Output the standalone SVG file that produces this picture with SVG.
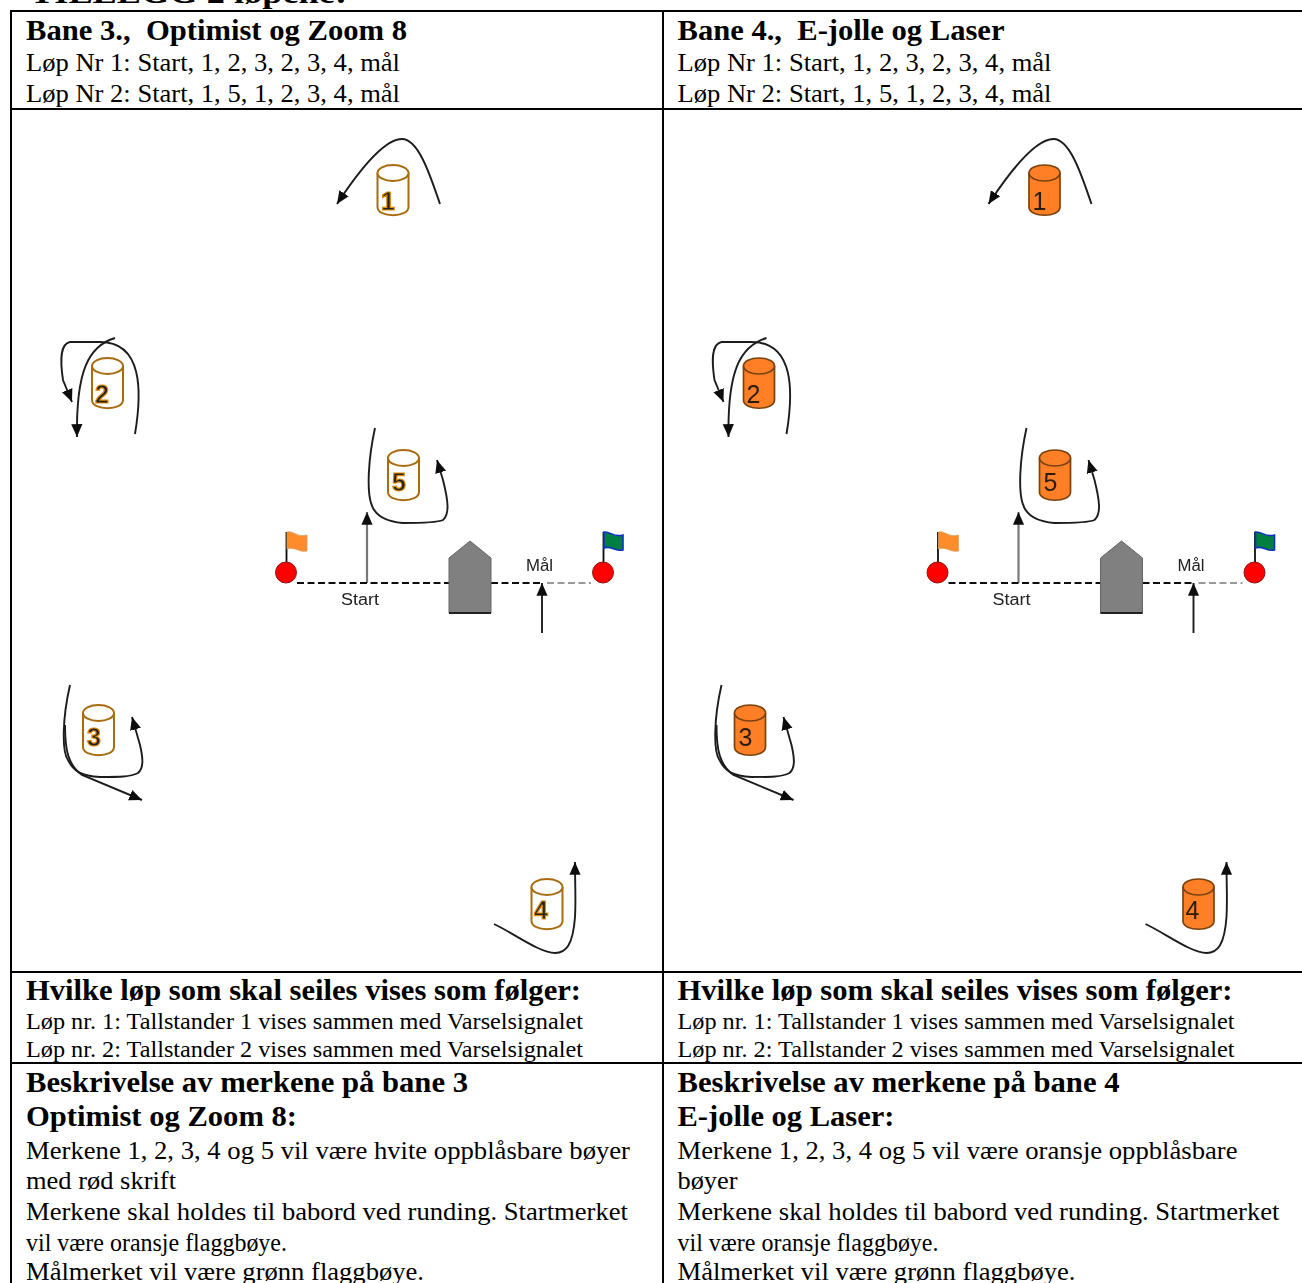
<svg xmlns="http://www.w3.org/2000/svg" width="1302" height="1283" viewBox="0 0 1302 1283">
<style>
text{font-family:"Liberation Serif","Times New Roman",serif;fill:#000;white-space:pre}
.h{font-size:30px;font-weight:700}
.b{font-size:26px}
.s{font-size:23.5px}
.n{font-family:"Liberation Sans",Arial,sans-serif;font-size:25px}
.nw{fill:#222;stroke:#e08a00;stroke-width:1.2;font-weight:700}
.no{fill:#2a1a08}
.lab{font-family:"Liberation Sans",Arial,sans-serif;font-size:16px;fill:#222}
.grid{stroke:#000;stroke-width:2;fill:none}
.buoyW{fill:#fff;stroke:#a86c10;stroke-width:2}
.buoyO{fill:#ff7f27;stroke:#7a4210;stroke-width:1.7}
.track{fill:none;stroke:#1c1c1c;stroke-width:1.9;marker-end:url(#ah)}
.grey{stroke:#777;stroke-width:2.2;fill:none;marker-end:url(#ah)}
.dash{stroke:#111;stroke-width:2;stroke-dasharray:7 3.5;fill:none}
.dashg{stroke:#999;stroke-width:2;stroke-dasharray:7 3.5;fill:none}
.boat{fill:#808080;stroke:#666;stroke-width:1}
.keel{stroke:#222;stroke-width:2}
.ball{fill:#f00;stroke:#8a1010;stroke-width:1}
.pole{stroke:#111;stroke-width:1.8}
.fo{fill:#ff8c2a;stroke:#d8a060;stroke-width:.8}
.fg{fill:#007f3f;stroke:#1030c0;stroke-width:1.6}
.soft{filter:url(#sf)}
</style>
<defs>
<filter id="sf" x="-5%" y="-5%" width="110%" height="110%"><feGaussianBlur stdDeviation="0.55"/></filter>
<marker id="ah" markerUnits="userSpaceOnUse" markerWidth="14" markerHeight="14" viewBox="0 0 12 12" refX="11" refY="6" orient="auto"><path d="M0 1.2L11 6L0 10.8Z" fill="#111"/></marker>
<g id="can"><path d="M-15.500 -17V17C-15.500 28 15.500 28 15.500 17V-17"/><ellipse cx="0" cy="-17" rx="15.500" ry="8"/></g>
</defs>

<text x="30" y="3" class="h" textLength="317" lengthAdjust="spacingAndGlyphs">TILLEGG 2 løpene:</text>

<g id="table" class="grid">
<path d="M10 11H1302M10 109H1302M10 972H1302M10 1063H1302M11 10V1283M663 10V1283"/>
</g>

<g id="header-left">
<text x="26" y="40" class="h" textLength="381" lengthAdjust="spacingAndGlyphs">Bane 3.,  Optimist og Zoom 8</text>
<text x="26" y="71" class="b" textLength="374" lengthAdjust="spacingAndGlyphs">Løp Nr 1: Start, 1, 2, 3, 2, 3, 4, mål</text>
<text x="26" y="102" class="b" textLength="374" lengthAdjust="spacingAndGlyphs">Løp Nr 2: Start, 1, 5, 1, 2, 3, 4, mål</text>
</g>
<g id="header-right">
<text x="677.500" y="40" class="h" textLength="327" lengthAdjust="spacingAndGlyphs">Bane 4.,  E-jolle og Laser</text>
<text x="677.500" y="71" class="b" textLength="374" lengthAdjust="spacingAndGlyphs">Løp Nr 1: Start, 1, 2, 3, 2, 3, 4, mål</text>
<text x="677.500" y="102" class="b" textLength="374" lengthAdjust="spacingAndGlyphs">Løp Nr 2: Start, 1, 5, 1, 2, 3, 4, mål</text>
</g>

<g id="connectors" class="soft">
<g id="connectors-left">
<path class="track" d="M440 204C431 178 419 139 402 139C386 139 362 166 337 204"/>
<path class="track" d="M115 338C88 346 76 372 77 437"/>
<path class="track" d="M135 434C142 392 143 342 100 342C85 342 77 342 70 342C60 344 60 360 63 380L72 402"/>
<path class="track" d="M375 428C368 460 367 490 371 503C375 518 390 522 403 523C420 523 436 523 443 520C450 514 448 500 443 480L437 460"/>
<path class="track" d="M70 685C62 720 62 752 68 760C74 772 82 776 100 777C120 777 130 777 138 773C144 768 143 758 140 745L132 717"/>
<path class="track" d="M65 725C65 750 68 765 82 775L142 800"/>
<path class="track" d="M494 924C515 934 540 953 555 953C566 953 573 945 575 917C576 900 575 885 575 862"/>
<path class="grey" d="M367 583V512"/>
<path class="track" d="M542 633V583"/>
<path class="dash" d="M297 583H449M491 583H542"/>
<path class="dashg" d="M547 583H591"/>
</g>
<g id="connectors-right">
<path class="track" d="M1091.500 204C1082.500 178 1070.500 139 1053.500 139C1037.500 139 1013.500 166 988.500 204"/>
<path class="track" d="M766.500 338C739.500 346 727.500 372 728.500 437"/>
<path class="track" d="M786.500 434C793.500 392 794.500 342 751.500 342C736.500 342 728.500 342 721.500 342C711.500 344 711.500 360 714.500 380L723.500 402"/>
<path class="track" d="M1026.500 428C1019.500 460 1018.500 490 1022.500 503C1026.500 518 1041.500 522 1054.500 523C1071.500 523 1087.500 523 1094.500 520C1101.500 514 1099.500 500 1094.500 480L1088.500 460"/>
<path class="track" d="M721.500 685C713.500 720 713.500 752 719.500 760C725.500 772 733.500 776 751.500 777C771.500 777 781.500 777 789.500 773C795.500 768 794.500 758 791.500 745L783.500 717"/>
<path class="track" d="M716.500 725C716.500 750 719.500 765 733.500 775L793.500 800"/>
<path class="track" d="M1145.500 924C1166.500 934 1191.500 953 1206.500 953C1217.500 953 1224.500 945 1226.500 917C1227.500 900 1226.500 885 1226.500 862"/>
<path class="grey" d="M1018.500 583V512"/>
<path class="track" d="M1193.500 633V583"/>
<path class="dash" d="M948.500 583H1100.500M1142.500 583H1193.500"/>
<path class="dashg" d="M1198.500 583H1242.500"/>
</g>
</g>

<g class="soft">
<g id="buoy-1-left"><use href="#can" x="393" y="190" class="buoyW"/><text x="381" y="210" class="n nw">1</text></g>
<g id="buoy-2-left"><use href="#can" x="107.500" y="383" class="buoyW"/><text x="95" y="403" class="n nw">2</text></g>
<g id="buoy-3-left"><use href="#can" x="98.500" y="730" class="buoyW"/><text x="87" y="746" class="n nw">3</text></g>
<g id="buoy-4-left"><use href="#can" x="547" y="904" class="buoyW"/><text x="534" y="919" class="n nw">4</text></g>
<g id="buoy-5-left"><use href="#can" x="403.500" y="475" class="buoyW"/><text x="392" y="491" class="n nw">5</text></g>

<g id="buoy-1-right"><use href="#can" x="1044.500" y="190" class="buoyO"/><text x="1032.500" y="210" class="n no">1</text></g>
<g id="buoy-2-right"><use href="#can" x="759" y="383" class="buoyO"/><text x="746.500" y="403" class="n no">2</text></g>
<g id="buoy-3-right"><use href="#can" x="750" y="730" class="buoyO"/><text x="738.500" y="746" class="n no">3</text></g>
<g id="buoy-4-right"><use href="#can" x="1198.500" y="904" class="buoyO"/><text x="1185.500" y="919" class="n no">4</text></g>
<g id="buoy-5-right"><use href="#can" x="1055" y="475" class="buoyO"/><text x="1043.500" y="491" class="n no">5</text></g>

<g id="start-flag-left"><path class="pole" d="M286.500 564V532"/><path class="fo" d="M287 532C293 530 297 538 307 535V551C300 553 294 546 287 549Z"/><circle class="ball" cx="286" cy="572.500" r="10.500"/></g>
<g id="finish-flag-left"><path class="pole" d="M603.500 564V532"/><path class="fg" d="M604 532C610 531 614 538 623 535V550C616 552 610 545 604 548Z"/><circle class="ball" cx="603" cy="572.500" r="10.500"/></g>
<g id="boat-left"><path class="boat" d="M449 558L470 541L491 558V613H449Z"/><path class="keel" d="M449 613H491"/></g>
<text x="341" y="605" class="lab" textLength="38" lengthAdjust="spacingAndGlyphs">Start</text>
<text x="526" y="571" class="lab" textLength="27" lengthAdjust="spacingAndGlyphs">Mål</text>

<g id="start-flag-right"><path class="pole" d="M938 564V532"/><path class="fo" d="M938.500 532C944.500 530 948.500 538 958.500 535V551C951.500 553 945.500 546 938.500 549Z"/><circle class="ball" cx="937.500" cy="572.500" r="10.500"/></g>
<g id="finish-flag-right"><path class="pole" d="M1255 564V532"/><path class="fg" d="M1255.500 532C1261.500 531 1265.500 538 1274.500 535V550C1267.500 552 1261.500 545 1255.500 548Z"/><circle class="ball" cx="1254.500" cy="572.500" r="10.500"/></g>
<g id="boat-right"><path class="boat" d="M1100.500 558L1121.500 541L1142.500 558V613H1100.500Z"/><path class="keel" d="M1100.500 613H1142.500"/></g>
<text x="992.500" y="605" class="lab" textLength="38" lengthAdjust="spacingAndGlyphs">Start</text>
<text x="1177.500" y="571" class="lab" textLength="27" lengthAdjust="spacingAndGlyphs">Mål</text>
</g>

<g id="signals-left">
<text x="26" y="1000" class="h" textLength="555" lengthAdjust="spacingAndGlyphs">Hvilke løp som skal seiles vises som følger:</text>
<text x="26" y="1029" class="s" textLength="557" lengthAdjust="spacingAndGlyphs">Løp nr. 1: Tallstander 1 vises sammen med Varselsignalet</text>
<text x="26" y="1057" class="s" textLength="557" lengthAdjust="spacingAndGlyphs">Løp nr. 2: Tallstander 2 vises sammen med Varselsignalet</text>
</g>
<g id="signals-right">
<text x="677.500" y="1000" class="h" textLength="555" lengthAdjust="spacingAndGlyphs">Hvilke løp som skal seiles vises som følger:</text>
<text x="677.500" y="1029" class="s" textLength="557" lengthAdjust="spacingAndGlyphs">Løp nr. 1: Tallstander 1 vises sammen med Varselsignalet</text>
<text x="677.500" y="1057" class="s" textLength="557" lengthAdjust="spacingAndGlyphs">Løp nr. 2: Tallstander 2 vises sammen med Varselsignalet</text>
</g>
<g id="description-left">
<text x="26" y="1092" class="h" textLength="442" lengthAdjust="spacingAndGlyphs">Beskrivelse av merkene på bane 3</text>
<text x="26" y="1126" class="h" textLength="271" lengthAdjust="spacingAndGlyphs">Optimist og Zoom 8:</text>
<text x="26" y="1159" class="b" textLength="604" lengthAdjust="spacingAndGlyphs">Merkene 1, 2, 3, 4 og 5 vil være hvite oppblåsbare bøyer</text>
<text x="26" y="1189" class="b" textLength="150" lengthAdjust="spacingAndGlyphs">med rød skrift</text>
<text x="26" y="1220" class="b" textLength="602" lengthAdjust="spacingAndGlyphs">Merkene skal holdes til babord ved runding. Startmerket</text>
<text x="26" y="1251" class="b" textLength="261" lengthAdjust="spacingAndGlyphs">vil være oransje flaggbøye.</text>
<text x="26" y="1280" class="b" textLength="398" lengthAdjust="spacingAndGlyphs">Målmerket vil være grønn flaggbøye.</text>
</g>
<g id="description-right">
<text x="677.500" y="1092" class="h" textLength="442" lengthAdjust="spacingAndGlyphs">Beskrivelse av merkene på bane 4</text>
<text x="677.500" y="1126" class="h" textLength="217" lengthAdjust="spacingAndGlyphs">E-jolle og Laser:</text>
<text x="677.500" y="1159" class="b" textLength="560" lengthAdjust="spacingAndGlyphs">Merkene 1, 2, 3, 4 og 5 vil være oransje oppblåsbare</text>
<text x="677.500" y="1189" class="b" textLength="60" lengthAdjust="spacingAndGlyphs">bøyer</text>
<text x="677.500" y="1220" class="b" textLength="602" lengthAdjust="spacingAndGlyphs">Merkene skal holdes til babord ved runding. Startmerket</text>
<text x="677.500" y="1251" class="b" textLength="261" lengthAdjust="spacingAndGlyphs">vil være oransje flaggbøye.</text>
<text x="677.500" y="1280" class="b" textLength="398" lengthAdjust="spacingAndGlyphs">Målmerket vil være grønn flaggbøye.</text>
</g>
</svg>
